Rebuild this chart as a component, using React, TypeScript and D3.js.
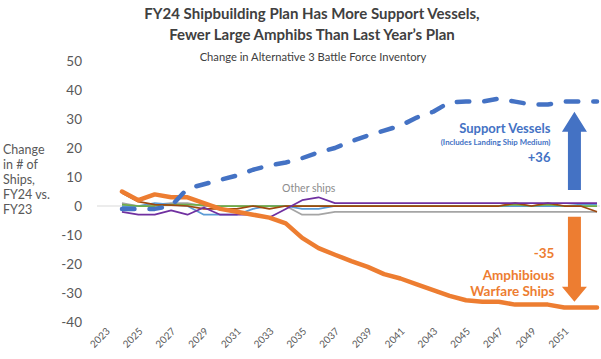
import React from "react";
import * as d3 from "d3";

const years = d3.range(2024, 2054);
const tickYears = d3.range(2023, 2052, 2);
const yTicks = [50, 40, 30, 20, 10, 0, -10, -20, -30, -40];

const supportVessels = [-1, -1, -1, 0, 6, 7.5, 9, 10.5, 12.5, 14, 15, 16.5, 18.5, 20, 22.3, 24.3, 26, 27.7, 30.5, 32.5, 35.8, 36, 36, 37, 36, 35, 35, 36, 36, 36];
const amphibious = [5, 2, 4, 3, 3, 1, -1, -2, -3, -4, -6, -11, -14.5, -16.8, -19, -21, -23.5, -25, -27, -29, -31, -32.5, -33, -33, -34, -34, -34, -35, -35, -35];
const otherPurple = [-2, -3, -3, -1.5, -3, -0.5, -3, -3, -3, -4, -1, 2, 3, 1, 1, 1, 1, 1, 1, 1, 1, 1, 1, 1, 1, 1, 1, 1, 1, 1];
const otherGray = [1, 0, 0.5, 1, 1, 0, 0, 0, 0, 0, 0, -3, -3, -2, -2, -2, -2, -2, -2, -2, -2, -2, -2, -2, -2, -2, -2, -2, -2, -2];
const otherLightBlue = [0, 0, 1, 0.5, 0, -3, -3, -3, -1, 0, 0, -1, -1, 0, 0, 0, 0, 0, 0, 0, 0, 0, 0, 0, 0, 0, 0, 0, 0.5, 0.5];
const otherGreen = [0.5, 0, 0, 0.5, 0.5, 0.3, 0, 0, 0, 0, 0, 0, 0, 0, 0, 0, 0, 0, 0, 0, 0, 0, 0, 0, 0.5, 0, 0.5, 0, 0, 0];
const otherBrown = [4.5, 1.5, 0.5, 0.3, 0, -1, -1, -1, 0, -1, 0, 0, 0, 0, 0, 0, 0, 0, 0, 0, 0, 0, 0, 0, 1, 0, 1, 0, 0, -2];

const W = 601;
const H = 359;
const FONT = "Lato, 'Open Sans', sans-serif";
const AXIS_COLOR = "#595959";

export default function App() {
  const x = d3.scaleLinear().domain([2023, 2053]).range([105.6, 597]);
  const y = d3.scaleLinear().domain([-40, 50]).range([322, 61]);
  const line = d3
    .line<number>()
    .x((_, i) => x(years[i]))
    .y((d) => y(d));

  const thin = [
    { data: otherGray, color: "#A5A5A5" },
    { data: otherLightBlue, color: "#5B9BD5" },
    { data: otherGreen, color: "#70AD47" },
    { data: otherBrown, color: "#9E480E" },
    { data: otherPurple, color: "#7030A0" },
  ];

  const arrowX = (x(2051) + x(2052)) / 2 + 2;
  const shaftW = 13;
  const headW = 25;

  const bTop = y(32.5);
  const bBot = y(5.5);
  const bHead = 20;
  const blueArrow = [
    [arrowX - shaftW / 2, bBot],
    [arrowX - shaftW / 2, bTop + bHead],
    [arrowX - headW / 2, bTop + bHead],
    [arrowX, bTop],
    [arrowX + headW / 2, bTop + bHead],
    [arrowX + shaftW / 2, bTop + bHead],
    [arrowX + shaftW / 2, bBot],
  ]
    .map((p) => p.join(","))
    .join(" ");

  const oTop = y(-3.7);
  const oBot = y(-33);
  const oHead = 15;
  const orangeArrow = [
    [arrowX - shaftW / 2, oTop],
    [arrowX - shaftW / 2, oBot - oHead],
    [arrowX - headW / 2, oBot - oHead],
    [arrowX, oBot],
    [arrowX + headW / 2, oBot - oHead],
    [arrowX + shaftW / 2, oBot - oHead],
    [arrowX + shaftW / 2, oTop],
  ]
    .map((p) => p.join(","))
    .join(" ");

  const textRight = arrowX - 24;

  return (
    <svg width={W} height={H} style={{ position: "absolute", left: 0, top: 0, background: "#fff" }} fontFamily={FONT}>
      <rect x={0} y={0} width={W} height={H} fill="#fff" />
      <text x={312} y={19} textAnchor="middle" fontSize={15} fontWeight={700} fill="#404040">
        FY24 Shipbuilding Plan Has More Support Vessels,
      </text>
      <text x={312} y={40} textAnchor="middle" fontSize={15} fontWeight={700} fill="#404040">
        Fewer Large Amphibs Than Last Year’s Plan
      </text>
      <text x={313} y={61} textAnchor="middle" fontSize={11.2} fill="#404040">
        Change in Alternative 3 Battle Force Inventory
      </text>

      {["Change", "in # of", "Ships,", "FY24 vs.", "FY23"].map((t, i) => (
        <text key={t} x={3} y={154 + i * 15} fontSize={12.5} fill={AXIS_COLOR}>
          {t}
        </text>
      ))}

      {yTicks.map((v) => (
        <text key={v} x={82} y={y(v)} dy="0.35em" textAnchor="end" fontSize={13.5} fill={AXIS_COLOR}>
          {v}
        </text>
      ))}

      {tickYears.map((yr) => (
        <text
          key={yr}
          transform={`translate(${x(yr) + 5},${332}) rotate(-45)`}
          textAnchor="end"
          fontSize={10}
          fill={AXIS_COLOR}
        >
          {yr}
        </text>
      ))}

      <line x1={97} x2={600} y1={y(0)} y2={y(0)} stroke="#D9D9D9" strokeWidth={1} />

      {thin.map((s, i) => (
        <path key={i} d={line(s.data) || ""} fill="none" stroke={s.color} strokeWidth={1.75} strokeLinejoin="round" />
      ))}

      <path d={line(amphibious) || ""} fill="none" stroke="#ED7D31" strokeWidth={4.5} strokeLinejoin="round" strokeLinecap="round" />

      <path
        d={line(supportVessels) || ""}
        fill="none"
        stroke="#4472C4"
        strokeWidth={4.5}
        strokeDasharray="12.5 15"
        strokeLinecap="round"
        strokeLinejoin="round"
      />

      <text x={x(2035.4)} y={y(4.8)} textAnchor="middle" fontSize={10.5} fill="#8C8C8C">
        Other ships
      </text>

      <polygon points={blueArrow} fill="#4472C4" />
      <polygon points={orangeArrow} fill="#ED7D31" />

      <text x={textRight} y={133} textAnchor="end" fontSize={13} fontWeight={700} fill="#4472C4">
        Support Vessels
      </text>
      <text x={textRight} y={145} textAnchor="end" fontSize={7.8} fontWeight={700} fill="#4472C4">
        (Includes Landing Ship Medium)
      </text>
      <text x={textRight} y={162} textAnchor="end" fontSize={13} fontWeight={700} fill="#4472C4">
        +36
      </text>

      <text x={textRight + 4} y={258} textAnchor="end" fontSize={13.5} fontWeight={700} fill="#ED7D31">
        -35
      </text>
      <text x={textRight + 4} y={280} textAnchor="end" fontSize={13.5} fontWeight={700} fill="#ED7D31">
        Amphibious
      </text>
      <text x={textRight + 4} y={296} textAnchor="end" fontSize={13.5} fontWeight={700} fill="#ED7D31">
        Warfare Ships
      </text>
    </svg>
  );
}
